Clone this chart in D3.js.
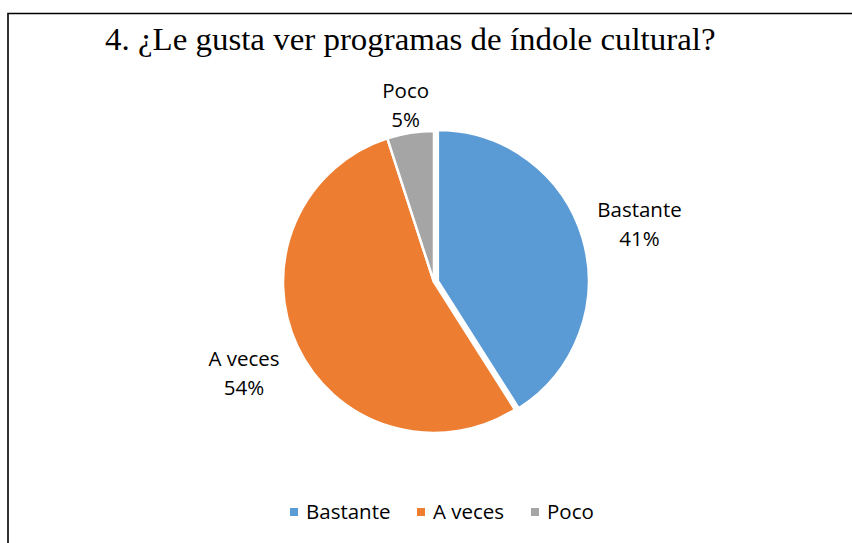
<!DOCTYPE html>
<html>
<head>
<meta charset="utf-8">
<script src="https://cdn.jsdelivr.net/npm/d3@7"></script>
<style>
  body { margin: 0; background: #fff; }
  svg { display: block; }
</style>
</head>
<body>
<svg id="chart" width="852" height="543"></svg>
<script>
// Chart data
var categories = ['Bastante', 'A veces', 'Poco'];
var values = [41, 54, 5];
var colors = ['#5B9BD5', '#ED7D31', '#A5A5A5'];
var title = '4. ¿Le gusta ver programas de índole cultural?';

var w = 852;
var h = 543;
var cx = 434;
var cy = 282;
var radius = 151;

var svg = d3.select('#chart');

// Frame (only left and top edges show in the picture)
svg.append('path')
   .attr('d', 'M8,' + h + 'V13.5H' + w)
   .attr('fill', 'none')
   .attr('stroke', '#000')
   .attr('stroke-width', 1.6);

// Title, stretched a bit to match Word's wider Times
svg.append('text')
   .attr('transform', 'translate(105,50) scale(1.062,1)')
   .attr('font-family', '"Liberation Serif", "Times New Roman", serif')
   .attr('font-size', 31)
   .attr('fill', '#000')
   .text(title);

// Pie
var pie = d3.pie().sort(null).value(function(d) { return d; });
var arcs = pie(values);

var arc = d3.arc().innerRadius(0).outerRadius(radius);

var g = svg.append('g')
   .attr('transform', 'translate(' + cx + ',' + cy + ')');

g.selectAll('path')
 .data(arcs)
 .enter()
 .append('path')
 .attr('d', arc)
 .attr('fill', function(d, i) { return colors[i]; })
 .attr('stroke', '#fff')
 .attr('stroke-width', 2.5)
 .attr('transform', function(d, i) {
   // first slice is pulled out a little
   if (i != 0) return null;
   var a = (d.startAngle + d.endAngle) / 2;
   return 'translate(' + (Math.sin(a) * 4) + ',' + (-Math.cos(a) * 4) + ')';
 });

// Data labels
var labelRadius = [214, 210, 181];
var labelFont = '"Open Sans", "Noto Sans", sans-serif';
var fontSize = 20.5;

var labels = g.selectAll('text.lbl')
 .data(arcs)
 .enter()
 .append('text')
 .attr('class', 'lbl')
 .attr('text-anchor', 'middle')
 .attr('font-family', labelFont)
 .attr('font-size', fontSize)
 .attr('fill', '#000')
 .attr('transform', function(d, i) {
   var a = (d.startAngle + d.endAngle) / 2;
   var x = Math.sin(a) * labelRadius[i];
   var y = -Math.cos(a) * labelRadius[i];
   return 'translate(' + x + ',' + y + ')';
 });

labels.append('tspan')
 .attr('x', 0)
 .attr('dy', -5)
 .text(function(d, i) { return categories[i]; });

labels.append('tspan')
 .attr('x', 0)
 .attr('dy', 29)
 .text(function(d, i) { return Math.round(d.data) + '%'; });

// Legend
var legend = svg.append('g')
   .attr('transform', 'translate(0, 512)');

var legendX = [290, 417, 531];

var item = legend.selectAll('g')
 .data(categories)
 .enter()
 .append('g')
 .attr('transform', function(d, i) { return 'translate(' + legendX[i] + ',0)'; });

item.append('rect')
 .attr('x', 0)
 .attr('y', -4)
 .attr('width', 8)
 .attr('height', 8)
 .attr('fill', function(d, i) { return colors[i]; });

item.append('text')
 .attr('x', 16)
 .attr('y', 7)
 .attr('font-family', labelFont)
 .attr('font-size', fontSize)
 .attr('fill', '#000')
 .text(function(d) { return d; });
</script>
</body>
</html>
